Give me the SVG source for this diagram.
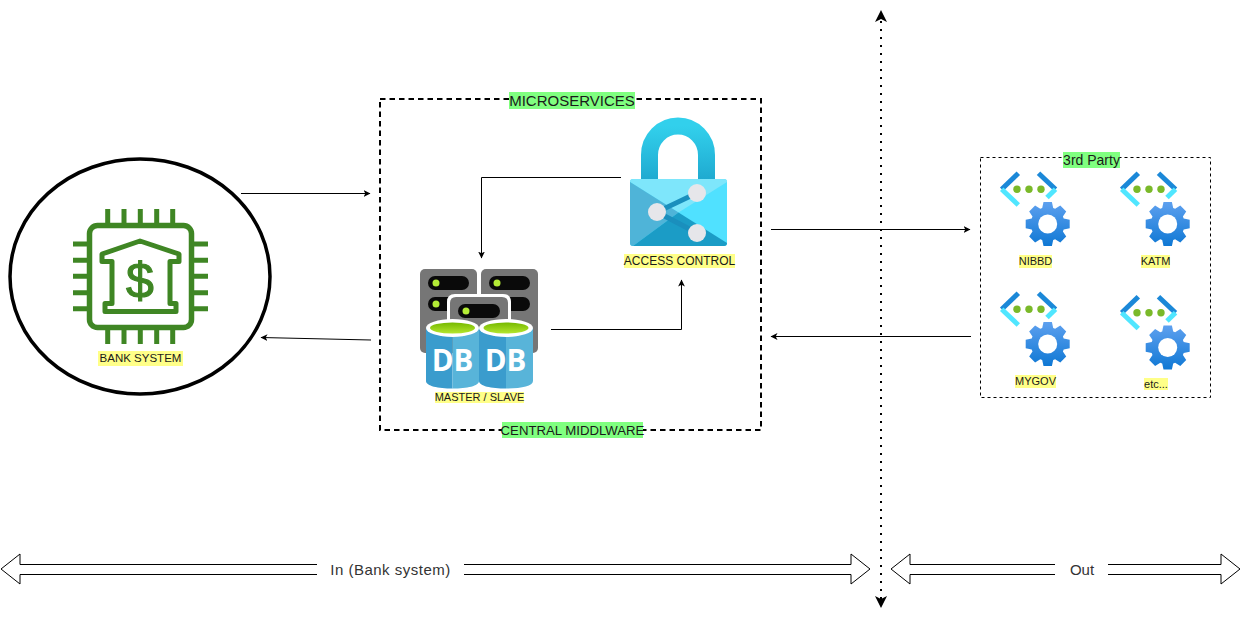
<svg xmlns="http://www.w3.org/2000/svg" xmlns:xlink="http://www.w3.org/1999/xlink" width="1240" height="619" viewBox="0 0 1240 619">
<style>
text{font-family:"Liberation Sans",Arial,sans-serif;text-anchor:middle;fill:#1a1a1a}
.y{fill:#ffff88}.g{fill:#80ff80}
.c{fill:none;stroke:#000;stroke-width:1}
.big{fill:#fff;stroke:#000;stroke-width:1}
.pill{fill:#0a0a0a}.dot{fill:#b4ec36}.srv{fill:#767676}
.pin{stroke:#3f8624;stroke-width:5;fill:none}
.db{font-weight:700;font-size:29.500px;fill:#fff;font-family:"Open Sans","Liberation Sans",sans-serif}
</style>
<defs>
<marker id="a" markerWidth="8" markerHeight="8" refX="6.5" refY="4" orient="auto" markerUnits="userSpaceOnUse"><path d="M0 0.6L7 4L0 7.4L1.8 4Z" fill="#000"/></marker>
<marker id="b" markerWidth="13" markerHeight="13" refX="9" refY="6.500" orient="auto-start-reverse" markerUnits="userSpaceOnUse"><path d="M0 0.500L12 6.500L0 12.500L3 6.500Z" fill="#000"/></marker>
<linearGradient id="gear" x1="0" y1="0" x2="0" y2="1"><stop offset="0" stop-color="#5ea0ef"/><stop offset="1" stop-color="#0f78d4"/></linearGradient>
<linearGradient id="sh" x1="0" y1="0" x2="0" y2="1"><stop offset="0" stop-color="#32d0ec"/><stop offset="1" stop-color="#1ea8cf"/></linearGradient>
<linearGradient id="lime" x1="0" y1="0" x2="0" y2="1"><stop offset="0" stop-color="#76b900"/><stop offset="1" stop-color="#b4e62e"/></linearGradient>
<g id="api">
<path d="M1018.3 173.3L1001.7 189.3" fill="none" stroke="#1b88d8" stroke-width="5"/>
<path d="M1001.7 189.3L1018.3 205" fill="none" stroke="#50e6ff" stroke-width="5"/>
<path d="M1038.5 173.3L1055.5 189.3" fill="none" stroke="#1b88d8" stroke-width="5"/>
<path d="M1055.5 189.3L1047 197.5" fill="none" stroke="#50e6ff" stroke-width="5"/>
<circle cx="1017" cy="189.3" r="3.7" fill="#7ab929"/><circle cx="1029" cy="189.3" r="3.7" fill="#7ab929"/><circle cx="1041" cy="189.3" r="3.7" fill="#7ab929"/>
<g transform="translate(1047.7 224)">
<path d="M-5.5-16L-4.2-22L4.2-22L5.5-16L7.42-15.2L12.59-18.53L18.53-12.59L15.2-7.42L16-5.5L22-4.2L22 4.2L16 5.5L15.2 7.42L18.53 12.59L12.59 18.53L7.42 15.2L5.5 16L4.2 22L-4.2 22L-5.5 16L-7.42 15.2L-12.59 18.53L-18.53 12.59L-15.2 7.42L-16 5.5L-22 4.2L-22-4.2L-16-5.5L-15.2-7.42L-18.53-12.59L-12.59-18.53L-7.42-15.2Z" fill="url(#gear)"/>
<circle r="9.5" fill="#fff"/>
</g>
</g>
</defs>
<rect width="1240" height="619" fill="#fff"/>

<g id="middleware-frame">
<rect x="380" y="99" width="381" height="331" fill="none" stroke="#000" stroke-width="2" stroke-dasharray="5.500 4"/>
<rect class="g" x="509" y="92" width="126" height="17"/>
<text x="572" y="105.500" font-size="15">MICROSERVICES</text>
<rect class="g" x="502" y="422" width="141" height="16"/>
<text x="572.500" y="435" font-size="13.200">CENTRAL MIDDLWARE</text>
</g>

<g id="third-party-frame">
<rect x="980.500" y="157.500" width="230" height="240" fill="none" stroke="#000" stroke-dasharray="3 3"/>
<rect class="g" x="1063" y="152" width="57" height="16"/>
<text x="1091.500" y="165" font-size="14">3rd Party</text>
</g>

<g id="bank-system">
<ellipse cx="140" cy="276.500" rx="130" ry="117.500" fill="#fff" stroke="#000" stroke-width="3.500"/>
<rect x="89.500" y="225.500" width="102" height="102" rx="8" fill="none" stroke="#3f8624" stroke-width="5.500"/>
<path class="pin" d="M107.700 209V223M124 209V223M140.300 209V223M156.700 209V223M172.700 209V223M107.700 330V344M124 330V344M140.300 330V344M156.700 330V344M172.700 330V344M73 244H87M73 260.300H87M73 276.300H87M73 292.700H87M73 308.700H87M194 244H208M194 260.300H208M194 276.300H208M194 292.700H208M194 308.700H208"/>
<path d="M140 241L179 254V261.500H170V303.500H176V311.500H105V303.500H112V261.500H102V254Z" fill="none" stroke="#3f8624" stroke-width="5" stroke-linejoin="round"/>
<text x="140" y="298" font-size="50" stroke="#3f8624" stroke-width="1.200" style="fill:#3f8624">$</text>
<rect class="y" x="98" y="351" width="85" height="15"/>
<text x="140.500" y="362" font-size="11.500">BANK SYSTEM</text>
</g>

<g id="access-control">
<path d="M649.500 182V155A28.500 29 0 0 1 706.500 155V182" fill="none" stroke="url(#sh)" stroke-width="17"/>
<rect x="630" y="179" width="97" height="67" rx="3" fill="#50e1ff"/>
<path d="M630 182Q630 179 633 179H724Q727 179 727 182L678.500 212.500Z" fill="#7ee6fb"/>
<path d="M630 182V243Q630 246 633 246L678.500 212.500Z" fill="#4fb4d8"/>
<path d="M633 246H724Q727 246 727 243L678.500 212.500Z" fill="#1b9cc6"/>
<path d="M697 193L657 212L697 233" fill="none" stroke="#1a8fbd" stroke-width="5"/>
<circle cx="697" cy="193" r="9" fill="#e6e6ea"/><circle cx="657" cy="212" r="9" fill="#e6e6ea"/><circle cx="697" cy="233" r="9" fill="#e6e6ea"/>
<rect class="y" x="624" y="254" width="111" height="14"/>
<text x="679.500" y="265" font-size="12">ACCESS CONTROL</text>
</g>

<g id="master-slave">
<rect class="srv" x="420" y="269" width="57" height="84" rx="5"/>
<rect class="srv" x="481" y="269" width="57" height="84" rx="5"/>
<rect class="pill" x="428" y="276" width="41" height="14" rx="7"/><rect class="pill" x="428" y="297" width="41" height="14" rx="7"/>
<rect class="pill" x="489" y="276" width="41" height="14" rx="7"/><rect class="pill" x="489" y="297" width="41" height="14" rx="7"/>
<circle class="dot" cx="436" cy="283" r="3.500"/><circle class="dot" cx="436" cy="304" r="3.500"/><circle class="dot" cx="497" cy="283" r="3.500"/><circle class="dot" cx="497" cy="304" r="3.500"/>
<path d="M447 330V302Q447 294 455 294H503Q511 294 511 302V330Z" fill="#fff"/>
<path d="M450 330V303Q450 297 456 297H502Q508 297 508 303V330Z" fill="#767676"/>
<rect class="pill" x="458" y="304" width="42" height="14" rx="7"/>
<circle class="dot" cx="466" cy="311" r="3.500"/>
<g>
<path d="M426 328V381C426 386 438 388.500 452.500 388.500V328Z" fill="#3a9ccd"/>
<path d="M452.500 328V388.500C467 388.500 479 386 479 381V328Z" fill="#58b4d9"/>
<ellipse cx="452.500" cy="328" rx="26.500" ry="9" fill="#fff"/>
<ellipse cx="452.500" cy="328" rx="22.500" ry="5.500" fill="url(#lime)"/>
<path d="M479 328V381C479 386 491 388.500 506 388.500V328Z" fill="#3a9ccd"/>
<path d="M506 328V388.500C521 388.500 533 386 533 381V328Z" fill="#58b4d9"/>
<ellipse cx="506" cy="328" rx="27" ry="9" fill="#fff"/>
<ellipse cx="506" cy="328" rx="22.500" ry="5.500" fill="url(#lime)"/>
<text class="db" x="452.500" y="371">DB</text>
<text class="db" x="505.500" y="371">DB</text>
</g>
<rect class="y" x="435" y="392" width="89" height="11"/>
<text x="479.500" y="401" font-size="11">MASTER / SLAVE</text>
</g>

<g id="nibbd"><use xlink:href="#api" href="#api"/>
<rect class="y" x="1019" y="255" width="33" height="13"/><text x="1035.500" y="265" font-size="11">NIBBD</text></g>
<g id="katm"><use xlink:href="#api" href="#api" x="120"/>
<rect class="y" x="1141" y="255" width="29" height="13"/><text x="1155.500" y="265" font-size="11">KATM</text></g>
<g id="mygov"><use xlink:href="#api" href="#api" y="120"/>
<rect class="y" x="1015" y="375" width="41" height="13"/><text x="1035.500" y="385" font-size="11">MYGOV</text></g>
<g id="etc"><use xlink:href="#api" href="#api" x="120" y="123.500"/>
<rect class="y" x="1144" y="378" width="24" height="12"/><text x="1156" y="388" font-size="11">etc...</text></g>

<g id="connectors">
<path class="c" d="M241 193.500H370" marker-end="url(#a)"/>
<path class="c" d="M371 340L261 337.500" marker-end="url(#a)"/>
<path class="c" d="M621 177.500H481.500V258" marker-end="url(#a)"/>
<path class="c" d="M551 329.500H681.500V280" marker-end="url(#a)"/>
<path class="c" d="M771 229.500H970" marker-end="url(#a)"/>
<path class="c" d="M971 336.500H771" marker-end="url(#a)"/>
<path d="M881 13V605" fill="none" stroke="#000" stroke-width="2" stroke-dasharray="2 6" marker-start="url(#b)" marker-end="url(#b)"/>
</g>

<g id="in-arrow">
<path class="big" d="M317 564.500H20V554L1 569L20 584V574.500H317M464 564.500H851V554L870 569L851 584V574.500H464"/>
<text x="390.500" y="575" font-size="15" letter-spacing=".5" style="fill:#333">In (Bank system)</text>
</g>
<g id="out-arrow">
<path class="big" d="M1055 564.500H910V554L891 569L910 584V574.500H1055M1108 564.500H1221V554L1240 569L1221 584V574.500H1108"/>
<text x="1082" y="575" font-size="15" style="fill:#333">Out</text>
</g>
</svg>
